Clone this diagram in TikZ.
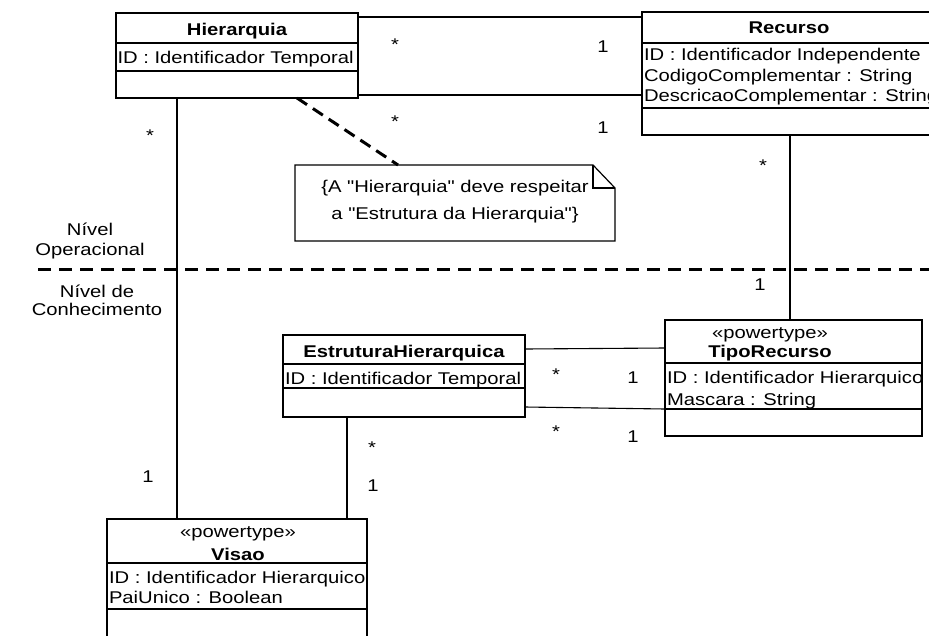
\documentclass[tikz,border=0pt]{standalone}
\usepackage{fontspec}
\setmainfont{Liberation Sans}[FakeStretch=1.19, Ligatures=TeXOff]
\newcommand\umlfont{\fontsize{17}{20.5}\selectfont}
\begin{document}
\begin{tikzpicture}[x=1pt,y=-1pt,
  every node/.style={font=\umlfont, inner sep=0pt, outer sep=0pt},
  classbox/.style={draw, line width=1.6pt, anchor=north west},
  divider/.style={line width=1.6pt},
  classname/.style={font=\umlfont\bfseries, anchor=base},
  stereo/.style={anchor=base},
  attr/.style={anchor=base west},
  link/.style={line width=1.1pt},
  levelline/.style={line width=3pt, dash pattern=on 13pt off 8pt},
  notelink/.style={line width=3pt, dash pattern=on 12pt off 7pt},
  notebox/.style={line width=1.2pt},
  mult/.style={anchor=center},
  level/.style={align=center, anchor=base}]

\clip (0,0) rectangle (929,635);

% ---------- classes ----------
\node[classbox, minimum width=242pt, minimum height=85pt] (hier) at (116,13) {};
\draw[divider] ([yshift=-30pt]hier.north west) -- ([yshift=-30pt]hier.north east);
\draw[divider] ([yshift=-58pt]hier.north west) -- ([yshift=-58pt]hier.north east);
\node[classname] (hierN) at (237,35) {Hierarquia};
\node[attr] (hierA) at (117.5,63) {ID : Identificador Temporal};

\node[classbox, minimum width=294pt, minimum height=123pt] (rec) at (642,12) {};
\draw[divider] ([yshift=-31pt]rec.north west) -- ([yshift=-31pt]rec.north east);
\draw[divider] ([yshift=-96pt]rec.north west) -- ([yshift=-96pt]rec.north east);
\node[classname] (recN) at (789,33) {Recurso};
\node[attr] (recA1) at (644,60) {ID : Identificador Independente};
\node[attr] (recA2) at (644,81) {CodigoComplementar : String};
\node[attr] (recA3) at (644,101) {DescricaoComplementar : String};

\node[classbox, minimum width=257pt, minimum height=116pt] (tipo) at (665,320) {};
\draw[divider] ([yshift=-43pt]tipo.north west) -- ([yshift=-43pt]tipo.north east);
\draw[divider] ([yshift=-89pt]tipo.north west) -- ([yshift=-89pt]tipo.north east);
\node[stereo] (tipoS) at (770,338) {«powertype»};
\node[classname] (tipoN) at (770,357) {TipoRecurso};
\node[attr] (tipoA1) at (667,383) {ID : Identificador Hierarquico};
\node[attr] (tipoA2) at (667,405) {Mascara : String};

\node[classbox, minimum width=242pt, minimum height=82pt] (eh) at (283,335) {};
\draw[divider] ([yshift=-29pt]eh.north west) -- ([yshift=-29pt]eh.north east);
\draw[divider] ([yshift=-53pt]eh.north west) -- ([yshift=-53pt]eh.north east);
\node[classname] (ehN) at (404,357) {EstruturaHierarquica};
\node[attr] (ehA) at (285,384) {ID : Identificador Temporal};

\node[classbox, minimum width=260pt, minimum height=121pt] (vis) at (107,519) {};
\draw[divider] ([yshift=-44pt]vis.north west) -- ([yshift=-44pt]vis.north east);
\draw[divider] ([yshift=-90pt]vis.north west) -- ([yshift=-90pt]vis.north east);
\node[stereo] (visS) at (238,537) {«powertype»};
\node[classname] (visN) at (238,560) {Visao};
\node[attr] (visA1) at (109,583) {ID : Identificador Hierarquico};
\node[attr] (visA2) at (109,603) {PaiUnico : Boolean};

% ---------- note ----------
\node[anchor=north west, minimum width=320pt, minimum height=76pt] (note) at (295,165) {};
\draw[notebox] (note.north west) -- ([xshift=-22pt]note.north east)
  -- ([yshift=-23pt]note.north east) -- (note.south east) -- (note.south west) -- cycle;
\draw[notebox] ([xshift=-22pt]note.north east) |- ([yshift=-23pt]note.north east);
\node[anchor=base] (noteL1) at (455,192) {\{A "Hierarquia" deve respeitar};
\node[anchor=base] (noteL2) at (455,219) {a "Estrutura da Hierarquia"\}};
\draw[notelink] ([xshift=181pt]hier.south west) -- ([xshift=103pt]note.north west);

% ---------- levels ----------
\coordinate (lvlL) at (38,269);
\coordinate (lvlR) at (940,269);
\draw[levelline] (lvlL) -- (lvlR);
\node[level] (opA) at (90,235) {Nível};
\node[level] (opB) at (90,255) {Operacional};
\node[level] (coA) at (97,297) {Nível de};
\node[level] (coB) at (97,315) {Conhecimento};

% ---------- associations ----------
\draw[link] ([yshift=-4pt]hier.north east) -- ([yshift=-5pt]rec.north west);
\draw[link] ([yshift=3pt]hier.south east) -- ([yshift=40pt]rec.south west);
\draw[link] ([xshift=61pt]hier.south west) -- ([xshift=70pt]vis.north west);
\draw[link] ([xshift=148pt]rec.south west) -- ([xshift=125pt]tipo.north west);
\draw[link] ([xshift=64pt]eh.south west) -- ([xshift=240pt]vis.north west);
\draw[link] ([yshift=-14pt]eh.north east) -- ([yshift=-28pt]tipo.north west);
\draw[link] ([yshift=10pt]eh.south east) -- ([yshift=27pt]tipo.south west);

% ---------- multiplicities ----------
\node[mult] (m1) at (395,45) {*};
\node[mult] (m2) at (603,47) {1};
\node[mult] (m3) at (395,122) {*};
\node[mult] (m4) at (603,128) {1};
\node[mult] (m5) at (150,136) {*};
\node[mult] (m6) at (148,477) {1};
\node[mult] (m7) at (763,166) {*};
\node[mult] (m8) at (760,285) {1};
\node[mult] (m9) at (556,375) {*};
\node[mult] (m10) at (633,378) {1};
\node[mult] (m11) at (556,432) {*};
\node[mult] (m12) at (633,437) {1};
\node[mult] (m13) at (372,448) {*};
\node[mult] (m14) at (373,486) {1};
\end{tikzpicture}
\end{document}
